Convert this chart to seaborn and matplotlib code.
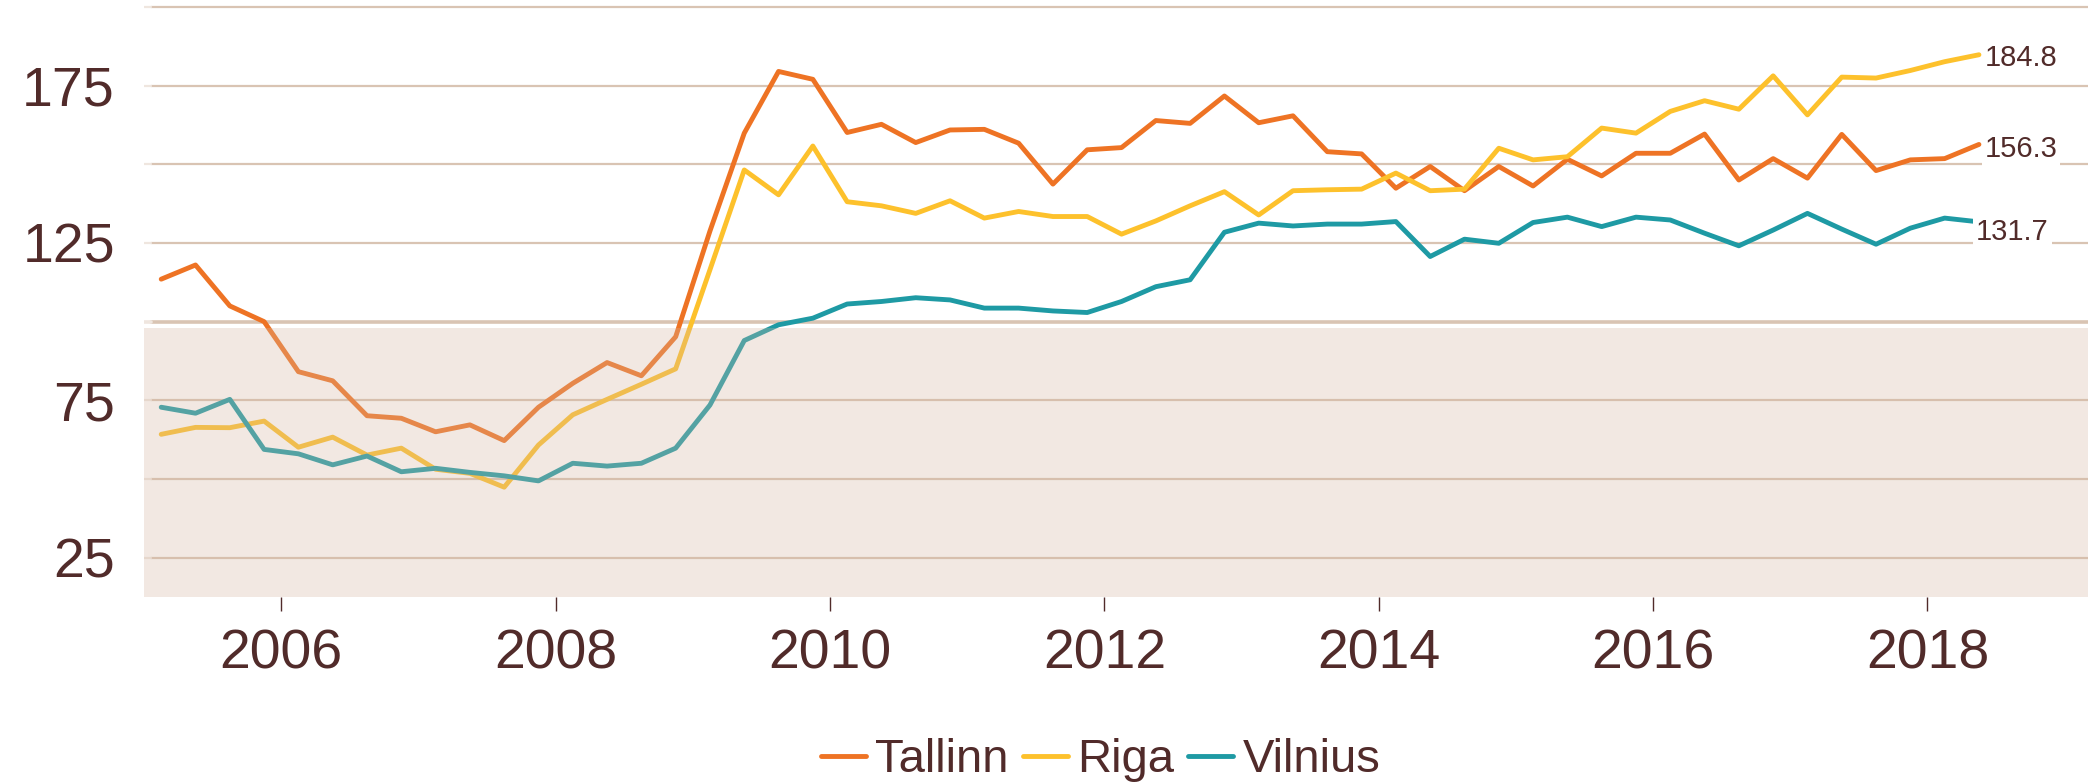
import matplotlib
matplotlib.use("Agg")
import matplotlib.pyplot as plt
import seaborn as sns
import pandas as pd

# quarterly house price index, 2005Q1 .. 2018Q2
quarters = pd.period_range("2005Q1", "2018Q2", freq="Q")
tallinn = [113.5, 118.0, 105.0, 100.0, 84.1, 81.2, 70.1, 69.3, 65.0, 67.2, 62.2, 72.8,
           80.4, 87.0, 82.8, 95.2, 128.8, 159.9, 179.5, 177.0, 160.1, 162.7, 156.9, 160.9,
           161.1, 156.7, 143.7, 154.6, 155.3, 163.9, 163.0, 171.7, 163.2, 165.4, 154.0, 153.3,
           142.4, 149.3, 141.6, 149.3, 143.1, 151.6, 146.3, 153.5, 153.5, 159.6, 145.0, 151.8,
           145.6, 159.5, 148.0, 151.4, 151.8, 156.3]
riga = [64.2, 66.4, 66.3, 68.4, 60.1, 63.3, 57.6, 59.8, 53.1, 51.8, 47.4, 60.8,
        70.4, 75.3, 80.1, 85.0, 116.5, 148.2, 140.3, 155.8, 138.1, 136.8, 134.4, 138.4,
        132.9, 135.0, 133.4, 133.4, 127.8, 132.0, 136.8, 141.3, 133.9, 141.6, 141.9, 142.1,
        147.2, 141.6, 142.1, 155.1, 151.4, 152.4, 161.5, 159.9, 166.8, 170.2, 167.5, 178.1,
        165.7, 177.7, 177.4, 179.8, 182.6, 184.8]
vilnius = [72.8, 70.9, 75.3, 59.4, 58.0, 54.5, 57.3, 52.3, 53.4, 52.1, 51.0, 49.4,
           55.0, 54.1, 55.0, 59.8, 73.5, 94.0, 99.0, 101.1, 105.6, 106.4, 107.6, 106.9,
           104.3, 104.3, 103.4, 102.9, 106.4, 111.1, 113.3, 128.4, 131.3, 130.4, 131.0, 131.0,
           131.8, 120.7, 126.2, 124.9, 131.5, 133.2, 130.2, 133.2, 132.3, 128.1, 124.1, 129.1,
           134.4, 129.4, 124.6, 129.7, 132.9, 131.7]
cities = ["Tallinn", "Riga", "Vilnius"]
colors = {"Tallinn": "#EE7324", "Riga": "#FDC12C", "Vilnius": "#1E9AA4"}
yticks = [25, 75, 125, 175]
gridvals = [25, 50, 75, 100, 125, 150, 175, 200]

# mid-quarter position as decimal year
t = [q.year + (q.quarter - 1) / 4 + 0.125 for q in quarters]
df = pd.DataFrame({"t": t * 3,
                   "value": tallinn + riga + vilnius,
                   "city": [c for c in cities for _ in t]})

sns.set_style("white")
plt.rcParams['font.family'] = ['Liberation Sans', 'DejaVu Sans']
txt = "#512B2A"
grid_c = "#D9C4B3"

fig = plt.figure(figsize=(20.88, 7.84), dpi=100)
ax = fig.add_axes([0.069, 0.2389, 0.931, 0.7611])

sns.lineplot(data=df, x="t", y="value", hue="city", hue_order=cities,
             palette=colors, linewidth=3.5, ax=ax, zorder=3)

ax.set_xlim(2005.0, 2019.17)
ax.set_ylim(12.6, 202.2)

# grid lines every 25, heavier line at 100, light stub at the left end
for g in gridvals:
    ax.axhline(g, xmin=0.0036, color=grid_c, lw=1.6 if g != 100 else 2.6, zorder=1)
    ax.axhline(g, xmax=0.0036, color="#EFE6DF", lw=1.6 if g != 100 else 2.6, zorder=1)
# shaded band below 100 sits on top of lines
ax.axhspan(12.6, 98, color="#D4B6A2", alpha=0.3, lw=0, zorder=5)

ax.set_yticks(yticks)
ax.set_yticklabels([str(v) for v in yticks])
ax.set_xticks([2006, 2008, 2010, 2012, 2014, 2016, 2018])
ax.tick_params(axis="y", length=0, pad=21, labelsize=40, labelcolor=txt)
ax.tick_params(axis="x", length=10, width=1, color=txt, pad=13,
               labelsize=40, labelcolor=txt, direction="out", bottom=True)
ax.set_xlabel("")
ax.set_ylabel("")
for s in ax.spines.values():
    s.set_visible(False)

# end labels
offsets = {"Tallinn": (4, -3), "Riga": (4, -2), "Vilnius": (-2, -7)}
for c, vals in zip(cities, [tallinn, riga, vilnius]):
    ax.annotate(f"{vals[-1]:.1f}", xy=(t[-1], vals[-1]), xytext=offsets[c],
                textcoords="offset points", va="center", ha="left",
                fontsize=21, color=txt, zorder=6,
                bbox=dict(boxstyle="square,pad=0.1", fc="white", ec="none"))

handles, labels = ax.get_legend_handles_labels()
ax.legend(handles, labels, loc="center", bbox_to_anchor=(0.492, -0.274),
          ncol=3, frameon=False, fontsize=34, labelcolor=txt,
          handlelength=0.95, handletextpad=0.2, columnspacing=0.3)

fig.savefig("out.png", dpi=100)
